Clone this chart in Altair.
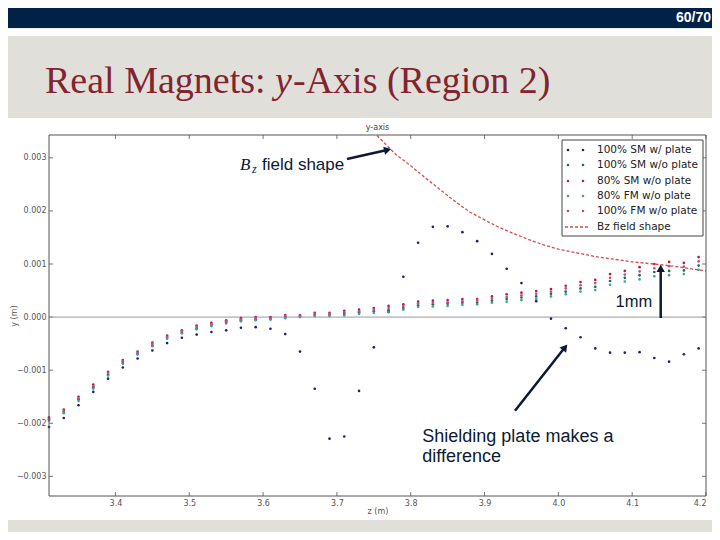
import altair as alt
import pandas as pd

# ---------------- data ----------------
z = [3.31, 3.33, 3.35, 3.37, 3.39, 3.41, 3.43, 3.45, 3.47, 3.49,
     3.51, 3.53, 3.55, 3.57, 3.59, 3.61, 3.63, 3.65, 3.67, 3.69,
     3.71, 3.73, 3.75, 3.77, 3.79, 3.81, 3.83, 3.85, 3.87, 3.89,
     3.91, 3.93, 3.95, 3.97, 3.99, 4.01, 4.03, 4.05, 4.07, 4.09,
     4.11, 4.13, 4.15, 4.17, 4.19]

# y values in mm
sm100_plate = [-2.07, -1.90, -1.66, -1.41, -1.16, -0.95, -0.78, -0.63, -0.49, -0.39,
               -0.33, -0.28, -0.25, -0.20, -0.19, -0.22, -0.32, -0.65, -1.35, -2.29,
               -2.25, -1.39, -0.57, 0.10, 0.76, 1.40, 1.70, 1.71, 1.60, 1.43,
               1.19, 0.91, 0.64, 0.30, -0.03, -0.21, -0.38, -0.59, -0.67, -0.67,
               -0.66, -0.77, -0.84, -0.70, -0.59]
sm80_noplate = [-1.89, -1.74, -1.50, -1.27, -1.03, -0.81, -0.65, -0.48, -0.35, -0.25,
                -0.16, -0.11, -0.06, -0.02, 0.00, 0.00, 0.04, 0.04, 0.08, 0.08,
                0.12, 0.14, 0.17, 0.21, 0.24, 0.29, 0.31, 0.32, 0.34, 0.34,
                0.39, 0.43, 0.46, 0.49, 0.53, 0.59, 0.66, 0.70, 0.81, 0.87,
                0.94, 1.00, 1.04, 1.02, 1.13]
fm100_noplate = [-1.91, -1.76, -1.53, -1.30, -1.05, -0.83, -0.67, -0.50, -0.37, -0.27,
                 -0.18, -0.13, -0.08, -0.04, -0.02, -0.02, 0.02, 0.03, 0.06, 0.06,
                 0.09, 0.11, 0.14, 0.17, 0.21, 0.26, 0.27, 0.28, 0.30, 0.31,
                 0.35, 0.38, 0.41, 0.44, 0.48, 0.54, 0.60, 0.64, 0.74, 0.80,
                 0.86, 0.92, 0.96, 0.95, 1.05]
sm100_noplate = [-1.93, -1.79, -1.55, -1.32, -1.08, -0.86, -0.69, -0.53, -0.39, -0.29,
                 -0.21, -0.15, -0.10, -0.06, -0.04, -0.03, 0.00, 0.01, 0.04, 0.04,
                 0.06, 0.09, 0.11, 0.13, 0.17, 0.22, 0.24, 0.25, 0.27, 0.27,
                 0.31, 0.34, 0.37, 0.39, 0.44, 0.48, 0.54, 0.57, 0.68, 0.74,
                 0.79, 0.85, 0.87, 0.88, 0.97]
fm80_noplate = [-1.95, -1.81, -1.58, -1.35, -1.10, -0.88, -0.71, -0.55, -0.41, -0.31,
                -0.23, -0.17, -0.12, -0.08, -0.06, -0.05, -0.02, 0.00, 0.02, 0.02,
                0.03, 0.06, 0.08, 0.09, 0.14, 0.19, 0.20, 0.21, 0.23, 0.24,
                0.27, 0.29, 0.32, 0.34, 0.39, 0.43, 0.48, 0.51, 0.61, 0.67,
                0.71, 0.77, 0.79, 0.81, 0.89]

bz_z = [3.74, 3.76, 3.78, 3.80, 3.82, 3.84, 3.86, 3.88, 3.90, 3.92, 3.94,
        3.96, 3.98, 4.00, 4.05, 4.10, 4.15, 4.20]
bz_mm = [3.62, 3.34, 3.06, 2.85, 2.62, 2.40, 2.18, 1.98, 1.83, 1.69, 1.57,
         1.46, 1.36, 1.28, 1.14, 1.04, 0.97, 0.87]

series_names = ["100% SM w/ plate", "100% SM w/o plate", "80% SM w/o plate",
                "80% FM w/o plate", "100% FM w/o plate"]
series_values = [sm100_plate, sm100_noplate, sm80_noplate, fm80_noplate, fm100_noplate]
series_colors = ["#1c1f86", "#1f6b35", "#b0203a", "#38a3a3", "#c04a9a"]
bz_label = "Bz field shape"
bz_color = "#d64a4a"

x_ticks = [3.4, 3.5, 3.6, 3.7, 3.8, 3.9, 4.0, 4.1, 4.2]
y_ticks = [-0.003, -0.002, -0.001, 0.0, 0.001, 0.002, 0.003]

title_parts = ["Real Magnets: ", "y", "-Axis (Region 2)"]
page_label = "60/70"

rows = []
for name, vals in zip(series_names, series_values):
    for zz, v in zip(z, vals):
        rows.append({"z": zz, "y": v / 1000.0, "series": name})
df = pd.DataFrame(rows)
bz_df = pd.DataFrame({"z": bz_z, "y": [v / 1000.0 for v in bz_mm]})

# ---------------- layout ----------------
W, H = 657, 361
NAVY = "#022147"
TEXT_NAVY = "#0b1a35"
GRAY_BG = "#e0dfda"
TITLE_RED = "#82232f"
AX = "#555555"

XS = alt.Scale(domain=[3.31, 4.20], nice=False, zero=False)
YS = alt.Scale(domain=[-0.00337, 0.00343], nice=False, zero=False)

X_AXIS = alt.Axis(
    values=x_ticks, format=".1f", title="z (m)", grid=False, domain=False,
    ticks=False, labelFont="DejaVu Sans", labelFontSize=8, labelColor=AX,
    labelPadding=3, titleFont="DejaVu Sans", titleFontSize=8,
    titleFontWeight="normal", titleColor=AX, titleX=W / 2, titleY=15,
    titleAlign="center", titleBaseline="middle", zindex=1)
Y_AXIS = alt.Axis(
    values=y_ticks, format=".3f", title="y (m)", grid=False, domain=False,
    ticks=False, labelFont="DejaVu Sans", labelFontSize=8, labelColor=AX,
    labelPadding=3, titleFont="DejaVu Sans", titleFontSize=8,
    titleFontWeight="normal", titleColor=AX, titleX=-35, titleY=H / 2,
    titleAngle=270, titleAlign="center", titleBaseline="middle", zindex=1)


def X(field):
    return alt.X(field, scale=XS, axis=X_AXIS, title="z (m)")


def Y(field):
    return alt.Y(field, scale=YS, axis=Y_AXIS, title="y (m)")


base = alt.Chart(pd.DataFrame({"k": [0]}))


def rect(x0, x1, y0, y1, color):
    return base.mark_rect(color=color).encode(
        x=alt.value(x0), x2=alt.value(x1), y=alt.value(y0), y2=alt.value(y1))


def txt(s, x, y, size, color, font="Liberation Sans", style="normal",
        weight="normal", align="left", baseline="alphabetic"):
    return base.mark_text(text=s, align=align, baseline=baseline, font=font,
                          fontSize=size, fontStyle=style, fontWeight=weight,
                          color=color).encode(x=alt.value(x), y=alt.value(y))


def seg(x0, y0, x1, y1, color, width, dash=None):
    kw = dict(color=color, strokeWidth=width)
    if dash:
        kw["strokeDash"] = dash
    return base.mark_rule(**kw).encode(
        x=alt.value(x0), y=alt.value(y0), x2=alt.value(x1), y2=alt.value(y1))


def head(x, y, angle, color=TEXT_NAVY, size=70):
    return base.mark_point(shape="triangle", filled=True, size=size, angle=angle,
                           color=color, opacity=1).encode(x=alt.value(x), y=alt.value(y))


layers = []
# slide background pieces
layers.append(rect(-49, 671, -17, 385, "white"))
layers.append(rect(-49, 671, -140, -106.7, NAVY))
layers.append(rect(-49, 671, -106.7, -99, "white"))
layers.append(txt(page_label, 662, -113, 14, "white", weight="bold", align="right"))
# slide title
layers.append(txt(title_parts[0], -4, -42, 38, TITLE_RED, font="Liberation Serif"))
layers.append(txt(title_parts[1], 226, -42, 38, TITLE_RED, font="Liberation Serif", style="italic"))
layers.append(txt(title_parts[2], 244, -42, 38, TITLE_RED, font="Liberation Serif"))

# plot title
layers.append(txt("y-axis", W / 2, -5, 8, "#444", font="DejaVu Sans", align="center"))

# inward ticks
xt = alt.Chart(pd.DataFrame({"z": x_ticks}))
yt = alt.Chart(pd.DataFrame({"y": y_ticks}))
for y0, y1 in [(0, 4), (H - 4, H)]:
    layers.append(xt.mark_rule(color="#777", strokeWidth=1).encode(
        x=X("z:Q"), y=alt.value(y0), y2=alt.value(y1)))
for x0, x1 in [(0, 4), (W - 4, W)]:
    layers.append(yt.mark_rule(color="#777", strokeWidth=1).encode(
        y=Y("y:Q"), x=alt.value(x0), x2=alt.value(x1)))

# zero line
layers.append(alt.Chart(pd.DataFrame({"y": [0.0]})).mark_rule(
    color="#9a9a9a", strokeWidth=1).encode(y=Y("y:Q")))

# data points
points = alt.Chart(df).mark_circle(size=7, opacity=1).encode(
    x=X("z:Q"),
    y=Y("y:Q"),
    color=alt.Color("series:N", scale=alt.Scale(domain=series_names, range=series_colors),
                    legend=None),
)
layers.append(points)

# Bz field shape
layers.append(alt.Chart(bz_df).mark_line(color=bz_color, strokeWidth=1.3,
                                         strokeDash=[3, 2], clip=True).encode(
    x=X("z:Q"), y=Y("y:Q")))

# frame
layers.append(base.mark_rect(fillOpacity=0, stroke=AX, strokeWidth=1).encode(
    x=alt.value(0), x2=alt.value(W), y=alt.value(0), y2=alt.value(H)))

# manual legend (matplotlib style)
layers.append(base.mark_rect(fill="white", stroke="#444", strokeWidth=1).encode(
    x=alt.value(513), x2=alt.value(654), y=alt.value(5), y2=alt.value(101)))
row_y = [15, 30, 46, 61, 76, 92]
for i, (name, col) in enumerate(zip(series_names, series_colors)):
    for mx in (519, 534):
        layers.append(base.mark_circle(size=7, opacity=1, color=col).encode(
            x=alt.value(mx), y=alt.value(row_y[i])))
    layers.append(txt(name, 548, row_y[i], 10.5, "#222", font="DejaVu Sans",
                      baseline="middle"))
layers.append(seg(516, row_y[5], 540, row_y[5], bz_color, 1.5, dash=[3, 2]))
layers.append(txt(bz_label, 548, row_y[5], 10.5, "#222", font="DejaVu Sans",
                  baseline="middle"))

# annotations
layers.append(txt("B", 191, 35, 17, TEXT_NAVY, font="Liberation Serif", style="italic"))
layers.append(txt("z", 203, 38, 12, TEXT_NAVY, font="Liberation Serif", style="italic"))
layers.append(txt("field shape", 213, 35, 17, TEXT_NAVY))
layers.append(seg(298, 24, 338, 15, TEXT_NAVY, 2.5))
layers.append(head(337.5, 15.2, 77))

layers.append(txt("1mm", 566.5, 171.5, 16.5, TEXT_NAVY))
layers.append(seg(611.7, 183, 611.7, 134, TEXT_NAVY, 2.5))
layers.append(head(611.7, 134.5, 0))

layers.append(txt("Shielding plate makes a", 373.3, 306.7, 18, TEXT_NAVY))
layers.append(txt("difference", 373.3, 326.7, 18, TEXT_NAVY))
layers.append(seg(466, 275.7, 515, 213.5, TEXT_NAVY, 2.5))
layers.append(head(515.3, 213.2, 38))

chart = alt.layer(*layers).properties(
    width=W, height=H,
    autosize=alt.AutoSizeParams(type="none"),
    padding={"left": 41, "top": 127, "right": 6, "bottom": 36},
    background=GRAY_BG,
).configure_view(strokeWidth=0)

chart.save("out.html", embed_options={"renderer": "svg", "actions": False})
